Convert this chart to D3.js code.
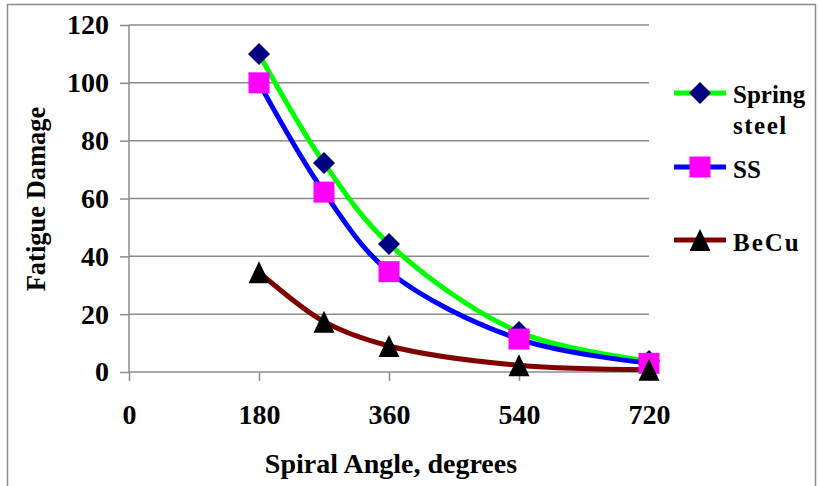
<!DOCTYPE html>
<html>
<head>
<meta charset="utf-8">
<script src="https://cdn.jsdelivr.net/npm/d3@7"></script>
<style>
  body { margin: 0; background: #fff; }
  svg text { font-family: "Liberation Serif", "Times New Roman", Times, serif; font-weight: bold; fill: #000; }
</style>
</head>
<body>
<svg id="chart" width="818" height="486"></svg>
<script>
// data
const angles = [180, 270, 360, 540, 720];
const springSteel = [110, 72.3, 44.3, 13.8, 3.8];
const stainless = [100, 62.2, 34.7, 11.4, 3.0];
const beCu = [34.5, 17.4, 9.0, 2.3, 0.8];
const seriesNames = ["Spring steel", "SS", "BeCu"];
const xTicks = [0, 180, 360, 540, 720];
const yTicks = [0, 20, 40, 60, 80, 100, 120];

const serif = '"Liberation Serif", "Times New Roman", Times, serif';

let svg = d3.select("#chart");

// chart border
svg.append("rect")
  .attr("x", 7.5).attr("y", 4.5)
  .attr("width", 808).attr("height", 490)
  .attr("fill", "none")
  .attr("stroke", "#8c8c8c")
  .attr("stroke-width", 1.5);

let x = d3.scaleLinear().domain([0, 720]).range([129, 649]);
let y = d3.scaleLinear().domain([0, 120]).range([372, 25]);

// gridlines
svg.append("g").selectAll("line")
  .data(yTicks.filter(d => d > 0))
  .enter().append("line")
  .attr("x1", x(0)).attr("x2", x(720))
  .attr("y1", d => y(d)).attr("y2", d => y(d))
  .attr("stroke", "#8c8c8c")
  .attr("stroke-width", 1.5);

// Y axis
let yAxis = d3.axisLeft(y).tickValues(yTicks).tickSize(9).tickPadding(11);
let yGroup = svg.append("g").attr("transform", "translate(" + x(0) + ",0)").call(yAxis);

// X axis
let xAxis = d3.axisBottom(x).tickValues(xTicks).tickSize(9).tickPadding(23);
let xGroup = svg.append("g").attr("transform", "translate(0," + y(0) + ")").call(xAxis);

[yGroup, xGroup].forEach(g => {
  g.attr("font-family", serif).attr("font-size", 28);
  g.select(".domain").attr("stroke", "#8c8c8c").attr("stroke-width", 1.5);
  g.selectAll(".tick line").attr("stroke", "#8c8c8c").attr("stroke-width", 1.5);
  g.selectAll(".tick text")
    .style("font-weight", "bold")
    .style("font-size", "28px")
    .attr("fill", "#000");
});
yGroup.select(".domain").attr("d", "M0," + y(120) + "V" + y(0));
xGroup.select(".domain").attr("d", "M" + x(0) + ",0H" + x(720));

// series
let series = [
  { name: seriesNames[0], values: springSteel, line: "#00ff00", marker: "#000080", shape: "diamond" },
  { name: seriesNames[1], values: stainless, line: "#0000ff", marker: "#ff00ff", shape: "square" },
  { name: seriesNames[2], values: beCu, line: "#800000", marker: "#000000", shape: "triangle" }
];

let lineGen = d3.line()
  .x(d => x(d[0]))
  .y(d => y(d[1]))
  .curve(d3.curveCatmullRom.alpha(0.5));

series.forEach(s => {
  let pts = angles.map((a, i) => [a, s.values[i]]);
  svg.append("path")
    .datum(pts)
    .attr("d", lineGen)
    .attr("fill", "none")
    .attr("stroke", s.line)
    .attr("stroke-width", 5)
    .attr("stroke-linejoin", "round");
});

function markerPath(s) {
  if (s.shape === "diamond") return "M0,-11L11,0L0,11L-11,0Z";
  if (s.shape === "square") return "M-10.5,-10.5H10.5V10.5H-10.5Z";
  return "M0,-11L10.5,11H-10.5Z";
}

series.forEach(s => {
  svg.append("g").selectAll("path")
    .data(angles.map((a, i) => [a, s.values[i]]))
    .enter().append("path")
    .attr("d", markerPath(s))
    .attr("transform", d => "translate(" + x(d[0]) + "," + y(d[1]) + ")")
    .attr("fill", s.marker);
});

// legend
let legendY = [93, 167, 240];
series.forEach((s, i) => {
  let g = svg.append("g").attr("transform", "translate(0," + legendY[i] + ")");
  g.append("line")
    .attr("x1", 674).attr("x2", 726)
    .attr("y1", 0).attr("y2", 0)
    .attr("stroke", s.line)
    .attr("stroke-width", 5);
  g.append("path")
    .attr("d", markerPath(s))
    .attr("transform", "translate(700,0)")
    .attr("fill", s.marker);
});

svg.append("text").text("Spring").attr("x", 733).attr("y", 103).style("font-size", "25px");
svg.append("text").text("steel").attr("x", 733).attr("y", 134).style("font-size", "25px").style("letter-spacing", "1.5px");
svg.append("text").text("SS").attr("x", 733).attr("y", 178).style("font-size", "25px");
svg.append("text").text("BeCu").attr("x", 733).attr("y", 251).style("font-size", "25px").style("letter-spacing", "2px");

// axis titles
svg.append("text")
  .text("Spiral Angle, degrees")
  .attr("x", 391).attr("y", 473)
  .attr("text-anchor", "middle")
  .style("font-size", "28px");

svg.append("text")
  .text("Fatigue Damage")
  .attr("transform", "translate(45,199) rotate(-90)")
  .attr("text-anchor", "middle")
  .style("font-size", "26.5px");
</script>
</body>
</html>
